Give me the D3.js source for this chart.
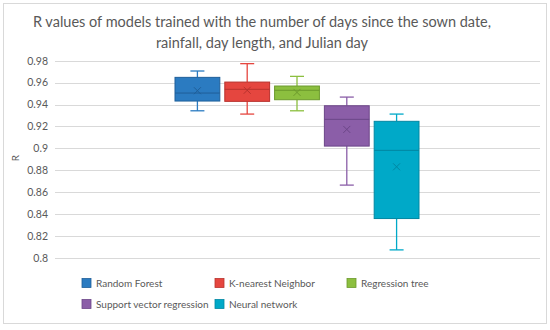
<!DOCTYPE html>
<html>
<head>
<meta charset="utf-8">
<script src="https://cdn.jsdelivr.net/npm/d3@7"></script>
<style>
  body { margin: 0; background: #fff; }
  text { font-family: Lato, "Open Sans", sans-serif; }
</style>
</head>
<body>
<div id="chart"></div>
<script>
// data
const models = ["Random Forest", "K-nearest Neighbor", "Regression tree", "Support vector regression", "Neural network"];
const whiskerLow  = [0.9343, 0.9313, 0.9343, 0.8665, 0.8074];
const quartile1   = [0.9432, 0.9429, 0.9444, 0.9021, 0.8360];
const medians     = [0.9505, 0.9539, 0.9530, 0.9265, 0.8982];
const quartile3   = [0.9648, 0.9605, 0.9569, 0.9389, 0.9247];
const whiskerHigh = [0.9706, 0.9773, 0.9657, 0.9468, 0.9313];
const means       = [0.9526, 0.9530, 0.9511, 0.9173, 0.8832];
const yTicks = [0.8, 0.82, 0.84, 0.86, 0.88, 0.9, 0.92, 0.94, 0.96, 0.98];

const fills   = ["#2b7bc1", "#e5463f", "#8cbf3f", "#8b5ea8", "#00a9c8"];
const strokes = ["#1f5f99", "#b8322d", "#6c9a2c", "#6c4688", "#0087a2"];

const W = 550, H = 330;
const svg = d3.select("#chart").append("svg")
    .attr("width", W)
    .attr("height", H);

// outer chart border
svg.append("rect")
    .attr("x", 3.5).attr("y", 3.5)
    .attr("width", 543).attr("height", 320)
    .attr("fill", "#fff")
    .attr("stroke", "#d9d9d9");

// title
svg.append("text")
    .attr("x", 262).attr("y", 27)
    .attr("text-anchor", "middle")
    .attr("font-size", 14.5)
    .attr("fill", "#595959")
    .text("R values of models trained with the number of days since the sown date,");
svg.append("text")
    .attr("x", 262).attr("y", 48)
    .attr("text-anchor", "middle")
    .attr("font-size", 14.5)
    .attr("fill", "#595959")
    .text("rainfall, day length, and Julian day");

const plotLeft = 55, plotRight = 540;
const y = d3.scaleLinear().domain([0.8, 0.98]).range([258, 60.7]);
const x = d3.scaleBand().domain(models).range([175, 419]).paddingInner(0.1);

// gridlines
svg.append("g")
    .selectAll("line")
    .data(yTicks)
    .enter()
    .append("line")
    .attr("x1", plotLeft)
    .attr("x2", plotRight)
    .attr("y1", (d) => Math.round(y(d)) + 0.5)
    .attr("y2", (d) => Math.round(y(d)) + 0.5)
    .attr("stroke", "#d9d9d9")
    .attr("stroke-width", 1);

// y axis labels
const yAxis = svg.append("g")
    .attr("transform", "translate(" + plotLeft + ",0)")
    .call(d3.axisLeft(y).tickValues(yTicks).tickSize(0).tickPadding(7).tickFormat((d) => String(+d.toFixed(2))));
yAxis.select(".domain").remove();
yAxis.selectAll("text")
    .attr("font-size", 10.5)
    .attr("fill", "#595959")
    .style("font-family", "Lato, 'Open Sans', sans-serif");

svg.append("text")
    .attr("transform", "translate(19,158) rotate(-90)")
    .attr("text-anchor", "middle")
    .attr("font-size", 10)
    .attr("fill", "#595959")
    .text("R");

// boxes
const boxes = svg.append("g").selectAll("g")
    .data(models)
    .enter()
    .append("g");

boxes.each(function (d, i) {
    const g = d3.select(this);
    const x0 = x(d), bw = x.bandwidth(), cx = x0 + bw / 2;
    const capW = 14;

    // whiskers
    g.append("line")
        .attr("x1", cx).attr("x2", cx)
        .attr("y1", y(whiskerHigh[i])).attr("y2", y(quartile3[i]))
        .attr("stroke", fills[i]).attr("stroke-width", 1.3);
    g.append("line")
        .attr("x1", cx).attr("x2", cx)
        .attr("y1", y(quartile1[i])).attr("y2", y(whiskerLow[i]))
        .attr("stroke", fills[i]).attr("stroke-width", 1.3);
    g.append("line")
        .attr("x1", cx - capW / 2).attr("x2", cx + capW / 2)
        .attr("y1", y(whiskerHigh[i])).attr("y2", y(whiskerHigh[i]))
        .attr("stroke", fills[i]).attr("stroke-width", 1.3);
    g.append("line")
        .attr("x1", cx - capW / 2).attr("x2", cx + capW / 2)
        .attr("y1", y(whiskerLow[i])).attr("y2", y(whiskerLow[i]))
        .attr("stroke", fills[i]).attr("stroke-width", 1.3);

    // box
    g.append("rect")
        .attr("x", x0)
        .attr("y", y(quartile3[i]))
        .attr("width", bw)
        .attr("height", y(quartile1[i]) - y(quartile3[i]))
        .attr("fill", fills[i])
        .attr("stroke", strokes[i])
        .attr("stroke-width", 1);

    // median
    g.append("line")
        .attr("x1", x0).attr("x2", x0 + bw)
        .attr("y1", y(medians[i])).attr("y2", y(medians[i]))
        .attr("stroke", strokes[i]).attr("stroke-width", 1);

    // mean marker
    const my = y(means[i]), s = 3.5;
    g.append("path")
        .attr("d", `M${cx - s},${my - s}L${cx + s},${my + s}M${cx - s},${my + s}L${cx + s},${my - s}`)
        .attr("stroke", strokes[i])
        .attr("stroke-width", 1);
});

// legend
const legendPos = [
    [82, 283], [215, 283], [347, 283],
    [82, 304], [215, 304]
];
const legend = svg.append("g").selectAll("g")
    .data(models)
    .enter()
    .append("g")
    .attr("transform", (d, i) => "translate(" + legendPos[i][0] + "," + legendPos[i][1] + ")");

legend.append("rect")
    .attr("x", 0).attr("y", -4.5)
    .attr("width", 9).attr("height", 9)
    .attr("fill", (d, i) => fills[i])
    .attr("stroke", (d, i) => strokes[i])
    .attr("stroke-width", 0.8);

legend.append("text")
    .attr("x", 14).attr("y", 3.5)
    .attr("font-size", 10)
    .attr("fill", "#595959")
    .text((d) => d);
</script>
</body>
</html>
